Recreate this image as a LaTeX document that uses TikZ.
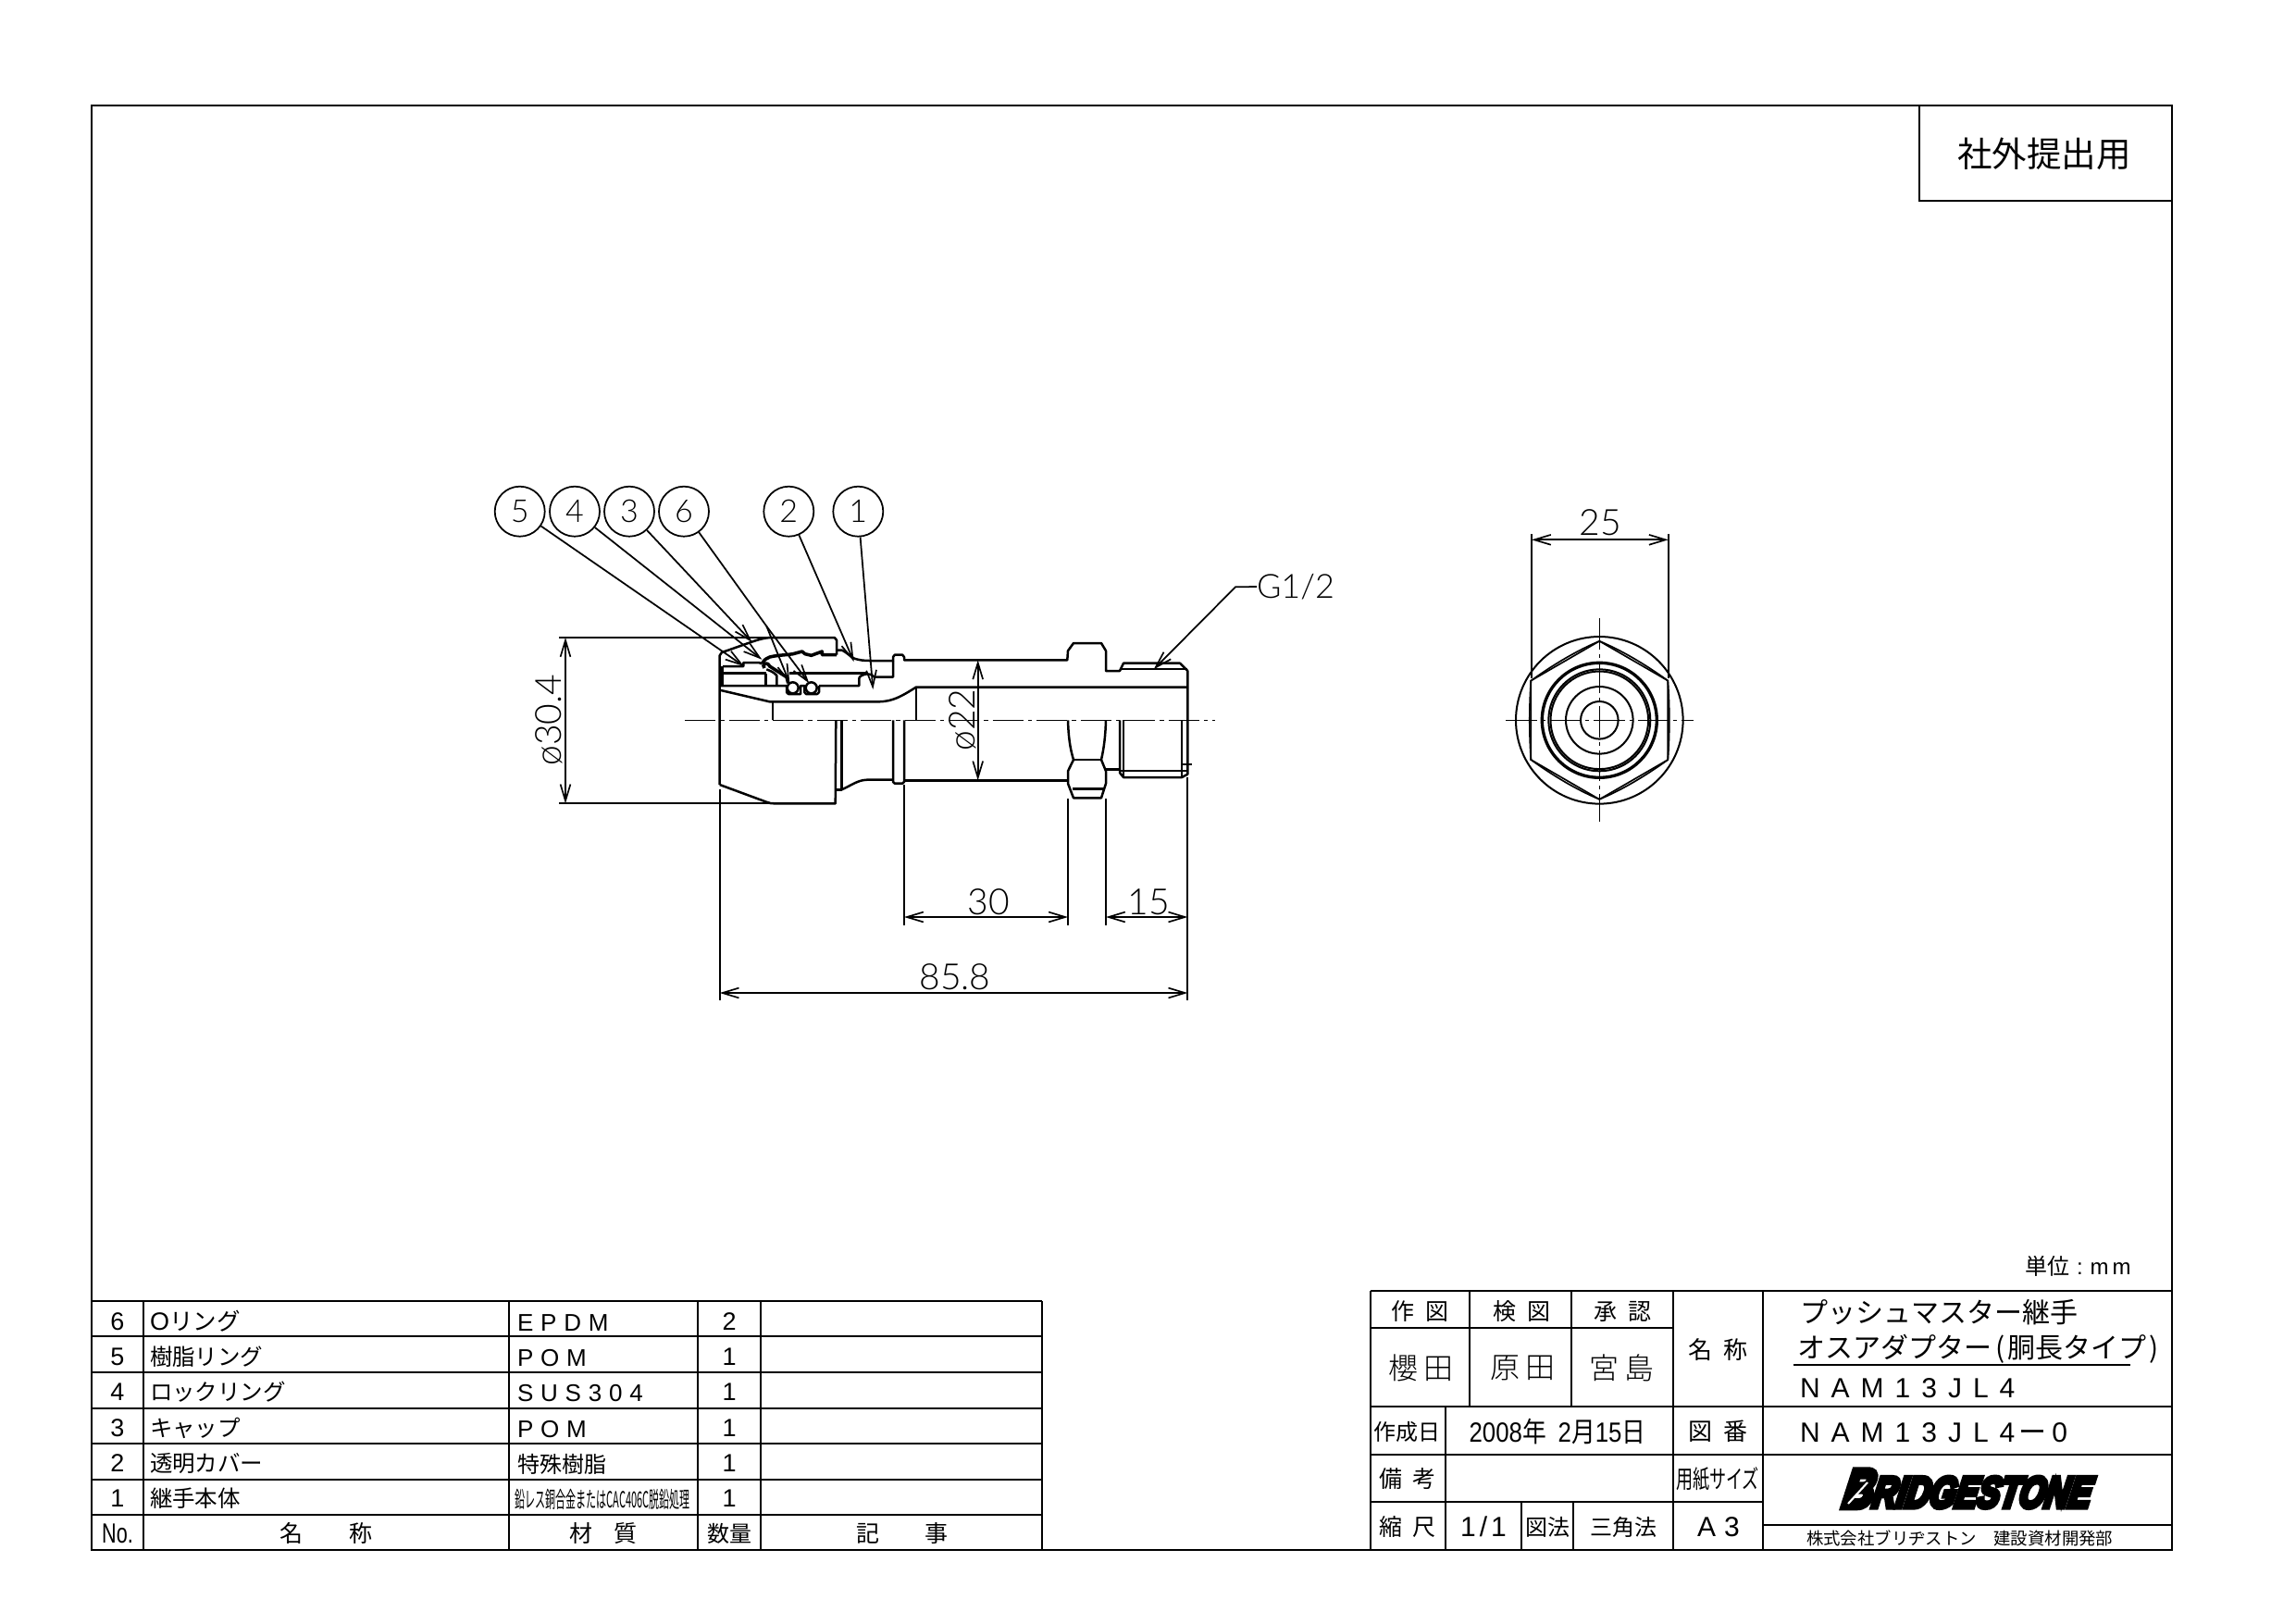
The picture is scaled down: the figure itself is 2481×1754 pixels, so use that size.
\documentclass[tikz,border=0pt]{standalone}
\usepackage{fontspec}
\usetikzlibrary{arrows.meta}
\setmainfont{Liberation Sans}
\newfontfamily\cjk{Noto Sans CJK JP}
\newfontfamily\cjkl{Noto Sans CJK JP Light}
\newfontfamily\cad{Lato Light}
\newfontfamily\spa[LetterSpace=30]{Liberation Sans}
\newfontfamily\spb[LetterSpace=40]{Liberation Sans}
\newfontfamily\logof[FakeBold=12,FakeSlant=0.42]{Liberation Sans Bold}
\newcommand\pxf[1]{\fontsize{\the\dimexpr #1pt*24/100\relax}{\the\dimexpr #1pt*30/100\relax}\selectfont}
\newcommand\gp[1]{\hspace*{\the\dimexpr #1pt*24/100\relax}}
\tikzset{
  thinl/.style={line width=.4pt},
  medl/.style={line width=.48pt},
  thickl/.style={line width=.7pt},
  outl/.style={line width=.6pt,line join=round},
  heavy/.style={line width=.85pt,line join=round},
  center line/.style={line width=.32pt,dash pattern=on 8pt off 1.2pt on 1pt off 1.2pt},
  dimln/.style={line width=.42pt,{Straight Barb[length=4.3pt,width=2.6pt,line width=.4pt]}-{Straight Barb[length=4.3pt,width=2.6pt,line width=.4pt]}},
  leader/.style={line width=.42pt,-{Straight Barb[length=4.3pt,width=2.6pt,line width=.4pt]}},
  extl/.style={line width=.42pt},
  balloon/.style={circle,draw,line width=.42pt,minimum size=12.96pt,inner sep=0pt,font=\cad\pxf{34}},
  txt/.style={inner sep=0pt,outer sep=0pt,anchor=center},
  ltxt/.style={inner sep=0pt,outer sep=0pt,anchor=west},
  dimtxt/.style={inner sep=0pt,outer sep=0pt,anchor=center,font=\cad\pxf{39}},
}
\begin{document}
\begin{tikzpicture}[x=.24pt,y=-.24pt]
\useasboundingbox (0,0) rectangle (2481,1754);
% ---------- sheet frame
\draw[thickl] (99,114) rectangle (2347,1675);
\draw[thickl] (2074,114) -- (2074,217) -- (2347,217);
\node[txt] (stamp) at (2209,166) {\cjk\pxf{37.5}社外提出用};
\node[ltxt] (unit) at (2188,1368) {\cjk\pxf{24}単位\gp{8}{\rmfamily\pxf{24}:\gp{8}m\gp{4}m}};
% ---------- parts list
\draw[thickl] (99,1406) -- (1126,1406);
\foreach \y in {1444,1522,1599,1637} \draw[thickl] (99,\y) -- (1126,\y);
\foreach \y in {1483,1560} \draw[medl] (99,\y) -- (1126,\y);
\draw[thickl] (155,1406) -- (155,1675);
\draw[medl] (550,1406) -- (550,1675);
\draw[medl] (754,1406) -- (754,1675);
\draw[thickl] (822,1406) -- (822,1675);
\draw[thickl] (1126,1406) -- (1126,1675);
\foreach \n/\y/\q in {6/1428/2,5/1466/1,4/1504/1,3/1543/1,2/1581/1,1/1619/1}{
  \node[txt] (no\n) at (127,\y) {\pxf{27}\n};
  \node[txt] (qty\n) at (788,\y) {\pxf{27}\q};
}
\node[ltxt] (nm6) at (162,1428) {\pxf{27}O{\cjk\pxf{25.5}リング}};
\node[ltxt] (nm5) at (162,1466) {\cjk\pxf{24.5}樹脂リング};
\node[ltxt] (nm4) at (162,1504) {\cjk\pxf{24.5}ロックリング};
\node[ltxt] (nm3) at (162,1543) {\cjk\pxf{24.5}キャップ};
\node[ltxt] (nm2) at (162,1581) {\cjk\pxf{24.5}透明カバー};
\node[ltxt] (nm1) at (162,1619) {\cjk\pxf{24.5}継手本体};
\node[ltxt] (mt6) at (559,1430) {\spa\pxf{26}EPDM};
\node[ltxt] (mt5) at (559,1468) {\spa\pxf{26}POM};
\node[ltxt] (mt4) at (559,1506) {\spa\pxf{26}SUS304};
\node[ltxt] (mt3) at (559,1545) {\spa\pxf{26}POM};
\node[ltxt] (mt2) at (559,1582) {\cjk\pxf{24}特殊樹脂};
\node[ltxt] (mt1) at (556,1620) {\scalebox{.46}[1]{\cjk\pxf{24}鉛レス銅合金またはCAC406C脱鉛処理}};
\node[txt] (hno) at (127,1657) {\scalebox{.72}[1]{\pxf{30}No.}};
\node[txt] (hnm) at (352,1657) {\cjk\pxf{25}名\gp{50}称};
\node[txt] (hmt) at (652,1657) {\cjk\pxf{25}材\gp{24}質};
\node[txt] (hqt) at (788,1657) {\cjk\pxf{24}数量};
\node[txt] (hrm) at (975,1657) {\cjk\pxf{25}記\gp{49}事};
% ---------- title block
\draw[thickl] (1481,1395) -- (2347,1395);
\draw[thickl] (1481,1395) -- (1481,1675);
\draw[medl] (1481,1435) -- (1808,1435);
\draw[medl] (1481,1520) -- (2347,1520);
\draw[thickl] (1481,1572) -- (2347,1572);
\draw[medl] (1481,1623) -- (1905,1623);
\draw[medl] (1905,1648) -- (2347,1648);
\draw[medl] (1938,1475) -- (2302,1475);
\draw[medl] (1588,1395) -- (1588,1520);
\draw[medl] (1698,1395) -- (1698,1520);
\draw[thickl] (1808,1395) -- (1808,1675);
\draw[thickl] (1905,1395) -- (1905,1675);
\draw[medl] (1562,1520) -- (1562,1675);
\draw[medl] (1644,1623) -- (1644,1675);
\draw[medl] (1700,1623) -- (1700,1675);
\node[txt] (t1) at (1534.5,1417) {\cjk\pxf{25}作\gp{12}図};
\node[txt] (t2) at (1644.5,1417) {\cjk\pxf{25}検\gp{12}図};
\node[txt] (t3) at (1753,1417) {\cjk\pxf{25}承\gp{12}認};
\node[txt] (t4) at (1535,1478) {\cjkl\pxf{32}櫻\gp{6}田};
\node[txt] (t5) at (1645,1478) {\cjkl\pxf{32}原\gp{6}田};
\node[txt] (t6) at (1752,1478) {\cjkl\pxf{32}宮\gp{6}島};
\node[txt] (t7) at (1856,1459) {\cjk\pxf{26}名\gp{12}称};
\node[txt] (t8) at (1520,1547) {\cjk\pxf{24}作成日};
\node[txt] (t9) at (1683,1547) {\scalebox{.86}[1]{\pxf{30}2008{\cjk 年}\gp{15}2{\cjk 月}15{\cjk 日}}};
\node[txt] (t10) at (1856,1547) {\cjk\pxf{26}図\gp{12}番};
\node[txt] (t11) at (1521,1598) {\cjk\pxf{25}備\gp{11}考};
\node[txt] (t12) at (1856,1598) {\scalebox{.67}[1]{\cjk\pxf{27}用紙サイズ}};
\node[txt] (t13) at (1521,1650) {\cjk\pxf{25}縮\gp{11}尺};
\node[txt] (t14) at (1603,1650) {\pxf{30}1\gp{4}/\gp{4}1};
\node[txt] (t15) at (1672,1650) {\cjk\pxf{24}図法};
\node[txt] (t16) at (1754,1650) {\cjk\pxf{24}三角法};
\node[txt] (t17) at (1857,1650) {\spa\pxf{30}A3};
\node[ltxt] (t18) at (1945,1418) {\cjk\pxf{30}プッシュマスター継手};
\node[ltxt] (t19) at (1942,1458) {\cjk\pxf{30}オスアダプター\gp{4}(\gp{3}胴長タイプ\gp{3})};
\node[ltxt] (t20) at (1945,1500) {\spb\pxf{30}NAM13JL4};
\node[ltxt] (t21) at (1945,1548) {\spb\pxf{30}NAM13JL4\gp{4}{\cjk ー}\gp{6}0};
\node[txt] (logo) at (2122,1609) {\resizebox{64.3pt}{9.6pt}{\logof\pxf{40}B\pxf{32}RIDGESTONE}};
\draw[white,line width=.5pt] (1997,1625) -- (2018,1602);
\node[ltxt] (t22) at (1952,1662) {\cjk\pxf{18.4}株式会社ブリヂストン　建設資材開発部};
% ---------- side view: upper half (section)
\draw[center line] (740,778.3) -- (1313,778.3);
\draw[outl] (777.7,848) -- (777.7,708.3) .. controls (778,705) and (781,704.5) .. (785,703.3)
  -- (813.3,693.3) .. controls (820,691) and (826,689.5) .. (831.7,689) -- (901.7,689)
  -- (904,691.7) -- (904,707.7);
\draw[outl] (904,702.7) -- (910,702.7) .. controls (915,705) and (918,709) .. (923.3,711.7)
  .. controls (929,713.5) and (934,714) .. (940,714) -- (965,714)
  -- (965,710) -- (967,707.5) -- (975,707.5) -- (977,710) -- (977,713.3) -- (1153.3,713.3)
  -- (1154,703.3) -- (1160,695) -- (1190,695) -- (1195,703.3) -- (1195,725) -- (1210,725)
  -- (1214,716.7) -- (1275,716.7) -- (1283.3,725) -- (1283.3,778.3);
\draw[thinl] (1210,723.3) -- (1283.3,723.3);
\draw[outl] (965,714) -- (965,731.7) -- (945,731.7) .. controls (942,729) and (939,728) .. (936.7,728.3)
  .. controls (932,729) and (928.3,731) .. (928.3,733.3) -- (928.3,741) -- (885,741);
\draw[outl] (853.3,727.7) -- (936.7,727.7);
\draw[heavy] (823.3,717.3) .. controls (826,713) and (828,711) .. (831.7,710) .. controls (840,708) and (848,708) .. (856.7,706.7)
  -- (866.7,704) -- (870,706.7) -- (876.7,708.3) -- (888.3,704) -- (888.3,707.7) -- (904,707.7);
\draw[outl] (781,720) -- (803.3,720) -- (803.3,716) -- (820,716) -- (823.3,717.3);
\draw[heavy] (826,722) .. controls (822,718) and (829,714) .. (831.7,720) -- (850,731.7) -- (851.7,738.3);
\draw[heavy] (781,727.7) -- (827.7,727.7);
\draw[outl] (827.7,727.7) -- (827.7,741);
\draw[outl] (839.3,741) -- (839.3,730) .. controls (836,726) and (832,725) .. (828.3,723.3);
\draw[outl] (777.7,741) -- (850,741) -- (850,748) -- (852,750) -- (865,750) -- (865,741) -- (869.3,741)
  -- (869.3,748) -- (871,750) -- (883,750) -- (885,748) -- (885,741);
\draw[outl] (856.7,743.3) circle[radius=6];
\draw[outl] (876.7,743.3) circle[radius=6];
\fill (777.7,720) rectangle (782,741);
\draw[outl] (779,746) -- (831.7,758.3) -- (950,758.3) .. controls (965,758) and (975,752) .. (990,742.5) -- (1283.3,742.5);
\draw[outl] (835,758.3) -- (835,778.3);
\draw[outl] (990,742.5) -- (990,778.3);
% ---------- side view: lower half (exterior)
\draw[outl] (777.7,848) -- (828.3,866.7) .. controls (831,868) and (834,868.3) .. (836.7,868.3) -- (902.7,868.3) -- (903.3,778.3);
\draw[outl] (909.3,778.3) -- (909.3,853.3) -- (903.3,853.3);
\draw[outl] (909.3,853.3) .. controls (918,850) and (926,843) .. (936.7,842.7) -- (965,842.7);
\draw[outl] (965,778.3) -- (965,845) -- (967,846.7) -- (975,846.7) -- (977,845) -- (977,778.3);
\draw[outl] (977,843.3) -- (1154,843.3);
\draw[outl] (1154,778.3) .. controls (1154.5,795) and (1156,808) .. (1160,821) -- (1154,833.3) -- (1154,846.7) -- (1160,862.3) -- (1190,862.3) -- (1195,846.7) -- (1195,833.3) -- (1190,821) .. controls (1193,808) and (1194.5,795) .. (1195,778.3);
\draw[outl] (1160,821) -- (1190,821);
\draw[outl] (1159,852.3) -- (1192,852.3);
\draw[outl] (1195,831.7) -- (1210,831.7);
\draw[outl] (1210,778.3) -- (1210,835) -- (1214,840) -- (1277,840) -- (1283.3,836.7) -- (1283.3,778.3);
\draw[outl] (1214,778.3) -- (1214,840);
\draw[outl] (1277,778.3) -- (1277,840);
\draw[thinl] (1210,833.3) -- (1283.3,833.3);
\draw[thinl] (1277,825.7) -- (1288,825.7);
% ---------- extension lines and dimensions
\draw[extl] (604,689) -- (832,689);
\draw[extl] (604,868.3) -- (836.7,868.3);
\draw[extl] (777.7,853) -- (777.7,1081);
\draw[extl] (977,848) -- (977,1000);
\draw[extl] (1154,863) -- (1154,1000);
\draw[extl] (1195,863) -- (1195,1000);
\draw[extl] (1283.3,840) -- (1283.3,1081);
\coordinate (dA1) at (611,689); \coordinate (dA2) at (611,868.3);
\draw[dimln] (dA1) -- (dA2);
\node[dimtxt,rotate=90] (dAt) at (593,778) {ø30.4};
\coordinate (dB1) at (1056.7,713.3); \coordinate (dB2) at (1056.7,843.3);
\draw[dimln] (dB1) -- (dB2);
\node[dimtxt,rotate=90] (dBt) at (1040,778) {ø22};
\coordinate (dC1) at (977,991); \coordinate (dC2) at (1154,991);
\draw[dimln] (dC1) -- (dC2);
\node[dimtxt] (dCt) at (1068,975) {30};
\coordinate (dD1) at (1195,991); \coordinate (dD2) at (1283.3,991);
\draw[dimln] (dD1) -- (dD2);
\node[dimtxt] (dDt) at (1241,975) {15};
\coordinate (dE1) at (777.7,1073); \coordinate (dE2) at (1283.3,1073);
\draw[dimln] (dE1) -- (dE2);
\node[dimtxt] (dEt) at (1032,1056) {85.8};
% G1/2 leader
\node[ltxt,font=\cad\pxf{36}] (g12) at (1358,634) {G1/2};
\coordinate (gtip) at (1246.7,723.3);
\draw[leader] (g12.west) -- (1335,634.3) -- (gtip);
% ---------- balloons and leaders
\node[balloon] (b5) at (561.7,552.7) {5};
\node[balloon] (b4) at (621,552.7) {4};
\node[balloon] (b3) at (680,552.7) {3};
\node[balloon] (b6) at (739,552.7) {6};
\node[balloon] (b2) at (852.3,552.7) {2};
\node[balloon] (b1) at (927.3,552.7) {1};
\coordinate (t5a) at (804,720);
\coordinate (t4a) at (823.3,712.7);
\coordinate (t3a) at (812.7,694);
\coordinate (k6) at (828.3,676.7);
\coordinate (t6a) at (853.3,738.3);
\coordinate (t6b) at (874.3,738.3);
\coordinate (t2a) at (922.7,715);
\coordinate (t1a) at (943.3,745);
\draw[leader] (b5) -- (t5a);
\draw[leader] (b4) -- (t4a);
\draw[leader] (b3) -- (t3a);
\draw[extl] (b6) -- (k6);
\draw[leader] (k6) -- (t6a);
\draw[leader] (k6) -- (t6b);
\draw[leader] (b2) -- (t2a);
\draw[leader] (b1) -- (t1a);
% ---------- end view
\begin{scope}[shift={(1728.3,778.3)}]
\draw[center line] (-101,0) -- (102,0);
\draw[center line] (0,-110) -- (0,110);
\draw[medl] (0,0) circle[radius=90.3];
\draw[thinl] (0,-85.5) -- (74,-42.7) -- (74,42.7) -- (0,85.5) -- (-74,42.7) -- (-74,-42.7) -- cycle;
\draw[thinl] (0,-85.5) .. controls (25,-75) and (50,-60) .. (74,-42.7)
  .. controls (76,-15) and (76,15) .. (74,42.7)
  .. controls (50,60) and (25,75) .. (0,85.5)
  .. controls (-25,75) and (-50,60) .. (-74,42.7)
  .. controls (-76,15) and (-76,-15) .. (-74,-42.7)
  .. controls (-50,-60) and (-25,-75) .. (0,-85.5);
\draw[line width=.8pt] (0,0) circle[radius=62];
\draw[medl] (0,0) circle[radius=55];
\draw[medl] (0,0) circle[radius=52.8];
\draw[medl] (0,0) circle[radius=36.3];
\draw[medl] (0,0) circle[radius=20.3];
\end{scope}
\draw[extl] (1655,577) -- (1655,733);
\draw[extl] (1802.7,577) -- (1802.7,733);
\coordinate (dF1) at (1655,583.3); \coordinate (dF2) at (1802.7,583.3);
\draw[dimln] (dF1) -- (dF2);
\node[dimtxt] (dFt) at (1729,565) {25};
\end{tikzpicture}
\end{document}
